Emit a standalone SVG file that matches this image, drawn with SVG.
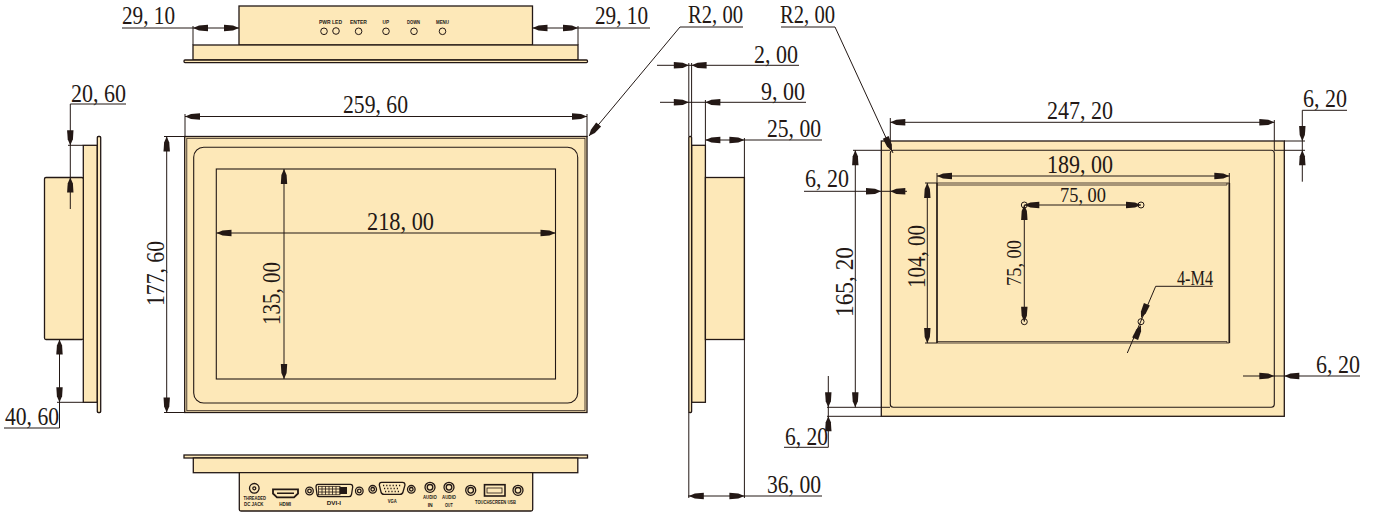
<svg xmlns="http://www.w3.org/2000/svg" width="1375" height="514" viewBox="0 0 1375 514">
<style>
.b{fill:#fde8b8;stroke:#231815;stroke-width:1.300}
.n{fill:none;stroke:#231815;stroke-width:1.100}
.f{fill:none;stroke:#231815;stroke-width:.8}
.l{fill:none;stroke:#231815;stroke-width:1}
.c{fill:none;stroke:#231815;stroke-width:1.300}
.t{font-family:"Liberation Serif",serif;font-size:26px;fill:#231815}
.s{font-size:21px}
.m{font-family:"Liberation Sans",sans-serif;font-size:6px;font-weight:bold;fill:#231815}
</style>
<defs>
<path id="a" fill="#231815" d="M0,0L-6,-2.600L-15,-3.200L-15,3.200L-6,2.600Z"/>
</defs>
<rect width="1375" height="514" fill="#fff"/>
<g id="top-view">
<rect class="b" x="239" y="6" width="293.500" height="39"/>
<rect class="b" x="193" y="45" width="385" height="15"/>
<rect class="b" x="184" y="60" width="403.500" height="2.600" rx="1"/>
<text class="m" x="319" y="24" textLength="23" lengthAdjust="spacingAndGlyphs">PWR LED</text>
<text class="m" x="350" y="24" textLength="17" lengthAdjust="spacingAndGlyphs">ENTER</text>
<text class="m" x="382.500" y="24" textLength="6.500" lengthAdjust="spacingAndGlyphs">UP</text>
<text class="m" x="407" y="24" textLength="13" lengthAdjust="spacingAndGlyphs">DOWN</text>
<text class="m" x="436" y="24" textLength="13" lengthAdjust="spacingAndGlyphs">MENU</text>
<g class="l"><circle cx="324" cy="31.300" r="3.300"/><circle cx="336" cy="31" r="3.300"/><circle cx="358.600" cy="31.300" r="3.300"/><circle cx="386" cy="31.300" r="3.300"/><circle cx="414" cy="31.300" r="3.300"/><circle cx="442.500" cy="31.300" r="3.300"/></g>
</g>
<g id="front-view">
<rect class="b" x="184.700" y="136.500" width="402.300" height="276"/>
<rect class="f" x="186.800" y="138.300" width="398.200" height="272.400"/>
<rect class="n" x="193.700" y="147.300" width="384" height="255.700" rx="10"/>
<rect class="n" x="216.300" y="169" width="339.200" height="210"/>
</g>
<g id="left-view">
<rect class="b" x="83.300" y="145.300" width="14" height="257"/>
<rect class="b" x="97.300" y="136.500" width="3.400" height="276" rx="1"/>
<rect class="b" x="44.500" y="177.500" width="38.800" height="162" rx="1.500"/>
</g>
<g id="side-view">
<rect class="b" x="691.600" y="145.300" width="13.800" height="257"/>
<rect class="b" x="688.800" y="136.500" width="2.800" height="276" rx="1"/>
<rect class="b" x="705.400" y="177.500" width="39" height="162"/>
</g>
<g id="rear-view">
<rect class="b" x="881.300" y="141" width="403" height="275.300"/>
<rect class="n" x="890.300" y="150.300" width="384" height="257" rx="3"/>
<path class="f" d="M937,183H1229.300M937,185H1227V183M937,343H1229.300M937,341.600H1227V343"/>
<path class="n" d="M937,183V343M1229.300,183V343" style="stroke-width:1.700"/>
<g class="l"><circle cx="1024.300" cy="205" r="3"/><circle cx="1141" cy="205" r="3"/><circle cx="1024.300" cy="321.700" r="3"/><circle cx="1141" cy="321.700" r="3"/></g>
</g>
<g id="bottom-view">
<rect class="b" x="184" y="455" width="403.500" height="3"/>
<rect class="b" x="193.300" y="458" width="384.500" height="14.700"/>
<path class="b" d="M239.300,472.700H532.700V509.500Q532.700,511 531,511H241Q239.300,511 239.300,509.500Z"/>
<g class="c">
<circle cx="254.300" cy="488.300" r="4.800"/><circle cx="254.300" cy="488.300" r="1.500"/>
<path d="M273,489.300H298V493.500L294,497.300H277L273,493.500Z" style="stroke-width:1.800"/>
<circle cx="309.500" cy="491" r="3.800"/><circle cx="309.500" cy="491" r="1.800"/>
<path d="M318,484.300H350.500Q352.700,484.300 352.700,487L351.500,494.500Q351,496.700 349,496.700H319.500Q317.500,496.700 317,494.500L316,487Q316,484.300 318,484.300Z"/>
<rect x="318.500" y="486.300" width="21.500" height="8.500" style="stroke-width:.8"/>
<path style="stroke-width:.8" d="M322,486.300V494.800M325.500,486.300V494.800M329,486.300V494.800M332.500,486.300V494.800M336,486.300V494.800M318.500,489H340M318.500,492H340"/>
<circle cx="359.300" cy="491" r="3.800"/><circle cx="359.300" cy="491" r="1.800"/>
<circle cx="372.700" cy="489.300" r="3.800"/><circle cx="372.700" cy="489.300" r="1.800"/>
<path d="M381.500,482.300H402.500Q405,482.300 405,485L403,492Q402.500,494.300 400,494.300H384Q381.500,494.300 381,492L379.300,485Q379.300,482.300 381.500,482.300Z"/>
<circle cx="411.300" cy="489.300" r="3.800"/><circle cx="411.300" cy="489.300" r="1.800"/>
<circle cx="430" cy="487.300" r="5"/><circle cx="430" cy="487.300" r="2.800"/>
<circle cx="449" cy="487.300" r="5"/><circle cx="449" cy="487.300" r="2.800"/>
<circle cx="470.700" cy="490.300" r="5"/><circle cx="470.700" cy="490.300" r="2.800"/>
<rect x="484.500" y="484.700" width="20.500" height="11.300" style="stroke-width:1.600"/><rect x="487" y="488" width="15" height="5" style="stroke-width:.8"/>
<circle cx="518" cy="490.300" r="5"/><circle cx="518" cy="490.300" r="2.800"/>
</g>
<path fill="#231815" d="M339.500,487H347V494H339.500ZM277,492.500H294V494H277Z"/>
<path stroke="#231815" stroke-width="1.400" stroke-dasharray="1.200 2" d="M383,485.500H402M384,488.500H400M385,491.500H399"/>
<text class="m" x="243.500" y="499.700" textLength="22.500" lengthAdjust="spacingAndGlyphs">THREADED</text>
<text class="m" x="244" y="505.700" textLength="19.500" lengthAdjust="spacingAndGlyphs">DC JACK</text>
<text class="m" x="279.300" y="505.700" textLength="11.700" lengthAdjust="spacingAndGlyphs">HDMI</text>
<text class="m" x="326.700" y="505" textLength="14.300" lengthAdjust="spacingAndGlyphs">DVI-I</text>
<text class="m" x="387.700" y="503.300" textLength="9" lengthAdjust="spacingAndGlyphs">VGA</text>
<text class="m" x="423" y="499.300" textLength="13.700" lengthAdjust="spacingAndGlyphs">AUDIO</text>
<text class="m" x="427.700" y="506.700" textLength="5" lengthAdjust="spacingAndGlyphs">IN</text>
<text class="m" x="442" y="499.300" textLength="14" lengthAdjust="spacingAndGlyphs">AUDIO</text>
<text class="m" x="445" y="506.700" textLength="7.700" lengthAdjust="spacingAndGlyphs">OUT</text>
<text class="m" x="475" y="504" textLength="41" lengthAdjust="spacingAndGlyphs">TOUCHSCREEN USB</text>
</g>
<g id="connectors">
<path class="l" d="M122,28H239M532.500,28H650M193,26V45M578,26V45
M185,114V137M587,114V137M185,116.500H587
M164,136.500H185M164,412.500H185M166.700,136.500V412.500
M126,104H70.300V209M68,145.300H83M59.500,339.500V428H4M57,402.300H83
M216.500,233H555.500M284,169V379
M743,27H680L589,136
M657,65.300H799M660,102.300H806M706,140H822M688,496H822
M688.800,63V136.500M688.800,412V498M691.600,63V136.500M705.400,100V145.300M744.400,138V498
M835,27H781M835,27L893,153
M890.300,118V150M1274.300,120V150M890.300,122.300H1274.300
M937,173V183M1229.300,173V183M937,176H1229.300
M1284,141H1305M1274,150.300H1305M1347,110.300H1302.300V181.700
M853,150.300H890M827,407.300H890M827,416.300H881M855.300,150.300V407.300
M828.300,376V447.300H784M804,191.300H907M1243,376H1360
M925,183H937M925,343H937M927.300,183V343
M1024.300,205H1141M1024.300,205V321.700
M1127.300,353L1155.700,286.300H1212.700"/>
<use href="#a" transform="translate(193,28)rotate(180)"/><use href="#a" transform="translate(239,28)"/>
<use href="#a" transform="translate(532.500,28)rotate(180)"/><use href="#a" transform="translate(578,28)"/>
<use href="#a" transform="translate(185,116.500)rotate(180)"/><use href="#a" transform="translate(587,116.500)"/>
<use href="#a" transform="translate(166.700,136.500)rotate(-90)"/><use href="#a" transform="translate(166.700,412.500)rotate(90)"/>
<use href="#a" transform="translate(70.300,145.300)rotate(90)"/><use href="#a" transform="translate(70.300,177.500)rotate(-90)"/>
<use href="#a" transform="translate(59.500,339.500)rotate(-90)"/><use href="#a" transform="translate(59.500,402.300)rotate(90)"/>
<use href="#a" transform="translate(216.500,233)rotate(180)"/><use href="#a" transform="translate(555.500,233)"/>
<use href="#a" transform="translate(284,169)rotate(-90)"/><use href="#a" transform="translate(284,379)rotate(90)"/>
<use href="#a" transform="translate(589,136)rotate(130)"/>
<use href="#a" transform="translate(688.800,65.300)"/><use href="#a" transform="translate(691.600,65.300)rotate(180)"/>
<use href="#a" transform="translate(688.800,102.300)"/><use href="#a" transform="translate(705.400,102.300)rotate(180)"/>
<use href="#a" transform="translate(705.400,140)rotate(180)"/><use href="#a" transform="translate(744.400,140)"/>
<use href="#a" transform="translate(688.800,496)rotate(180)"/><use href="#a" transform="translate(744.400,496)"/>
<use href="#a" transform="translate(892,151)rotate(65.300)"/>
<use href="#a" transform="translate(890.300,122.300)rotate(180)"/><use href="#a" transform="translate(1274.300,122.300)"/>
<use href="#a" transform="translate(937,176)rotate(180)"/><use href="#a" transform="translate(1229.300,176)"/>
<use href="#a" transform="translate(1302.300,141)rotate(90)"/><use href="#a" transform="translate(1302.300,150.300)rotate(-90)"/>
<use href="#a" transform="translate(855.300,150.300)rotate(-90)"/><use href="#a" transform="translate(855.300,407.300)rotate(90)"/>
<use href="#a" transform="translate(828.300,407.300)rotate(90)"/><use href="#a" transform="translate(828.300,416.300)rotate(-90)"/>
<use href="#a" transform="translate(881,191.300)"/><use href="#a" transform="translate(890.300,191.300)rotate(180)"/>
<use href="#a" transform="translate(1274.300,376)"/><use href="#a" transform="translate(1284.300,376)rotate(180)"/>
<use href="#a" transform="translate(927.300,183)rotate(-90)"/><use href="#a" transform="translate(927.300,343)rotate(90)"/>
<use href="#a" transform="translate(1024.300,205)rotate(180)"/><use href="#a" transform="translate(1141,205)"/>
<use href="#a" transform="translate(1024.300,205)rotate(-90)"/><use href="#a" transform="translate(1024.300,321.700)rotate(90)"/>
<use href="#a" transform="translate(1141,318)rotate(113)"/><use href="#a" transform="translate(1141,325)rotate(-67)"/>
</g>
<g id="labels">
<text class="t" x="122" y="24" textLength="53" lengthAdjust="spacingAndGlyphs">29, 10</text>
<text class="t" x="595" y="24" textLength="53" lengthAdjust="spacingAndGlyphs">29, 10</text>
<text class="t" x="688" y="23" textLength="55" lengthAdjust="spacingAndGlyphs">R2, 00</text>
<text class="t" x="780" y="23" textLength="55" lengthAdjust="spacingAndGlyphs">R2, 00</text>
<text class="t" x="343" y="113" textLength="65" lengthAdjust="spacingAndGlyphs">259, 60</text>
<text class="t" x="71" y="102" textLength="55" lengthAdjust="spacingAndGlyphs">20, 60</text>
<text class="t" x="5" y="425" textLength="54" lengthAdjust="spacingAndGlyphs">40, 60</text>
<text class="t" x="367" y="230" textLength="67" lengthAdjust="spacingAndGlyphs">218, 00</text>
<text class="t" transform="translate(164,306)rotate(-90)" textLength="65" lengthAdjust="spacingAndGlyphs">177, 60</text>
<text class="t" transform="translate(280,325)rotate(-90)" textLength="63" lengthAdjust="spacingAndGlyphs">135, 00</text>
<text class="t" x="754" y="63" textLength="44" lengthAdjust="spacingAndGlyphs">2, 00</text>
<text class="t" x="761" y="100" textLength="44" lengthAdjust="spacingAndGlyphs">9, 00</text>
<text class="t" x="767" y="137" textLength="54" lengthAdjust="spacingAndGlyphs">25, 00</text>
<text class="t" x="767" y="493" textLength="54" lengthAdjust="spacingAndGlyphs">36, 00</text>
<text class="t" x="1047" y="119" textLength="66" lengthAdjust="spacingAndGlyphs">247, 20</text>
<text class="t" x="1047" y="173" textLength="66" lengthAdjust="spacingAndGlyphs">189, 00</text>
<text class="t" x="1303" y="107" textLength="44" lengthAdjust="spacingAndGlyphs">6, 20</text>
<text class="t" x="805" y="187" textLength="44" lengthAdjust="spacingAndGlyphs">6, 20</text>
<text class="t" x="1316" y="373" textLength="44" lengthAdjust="spacingAndGlyphs">6, 20</text>
<text class="t" x="785" y="445" textLength="43" lengthAdjust="spacingAndGlyphs">6, 20</text>
<text class="t" transform="translate(853,317)rotate(-90)" textLength="70" lengthAdjust="spacingAndGlyphs">165, 20</text>
<text class="t" transform="translate(925,288)rotate(-90)" textLength="63" lengthAdjust="spacingAndGlyphs">104, 00</text>
<text class="t s" x="1060" y="202" textLength="46" lengthAdjust="spacingAndGlyphs">75, 00</text>
<text class="t s" transform="translate(1021,286)rotate(-90)" textLength="46" lengthAdjust="spacingAndGlyphs">75, 00</text>
<text class="t s" x="1177" y="285" textLength="36" lengthAdjust="spacingAndGlyphs">4-M4</text>
</g>
</svg>
